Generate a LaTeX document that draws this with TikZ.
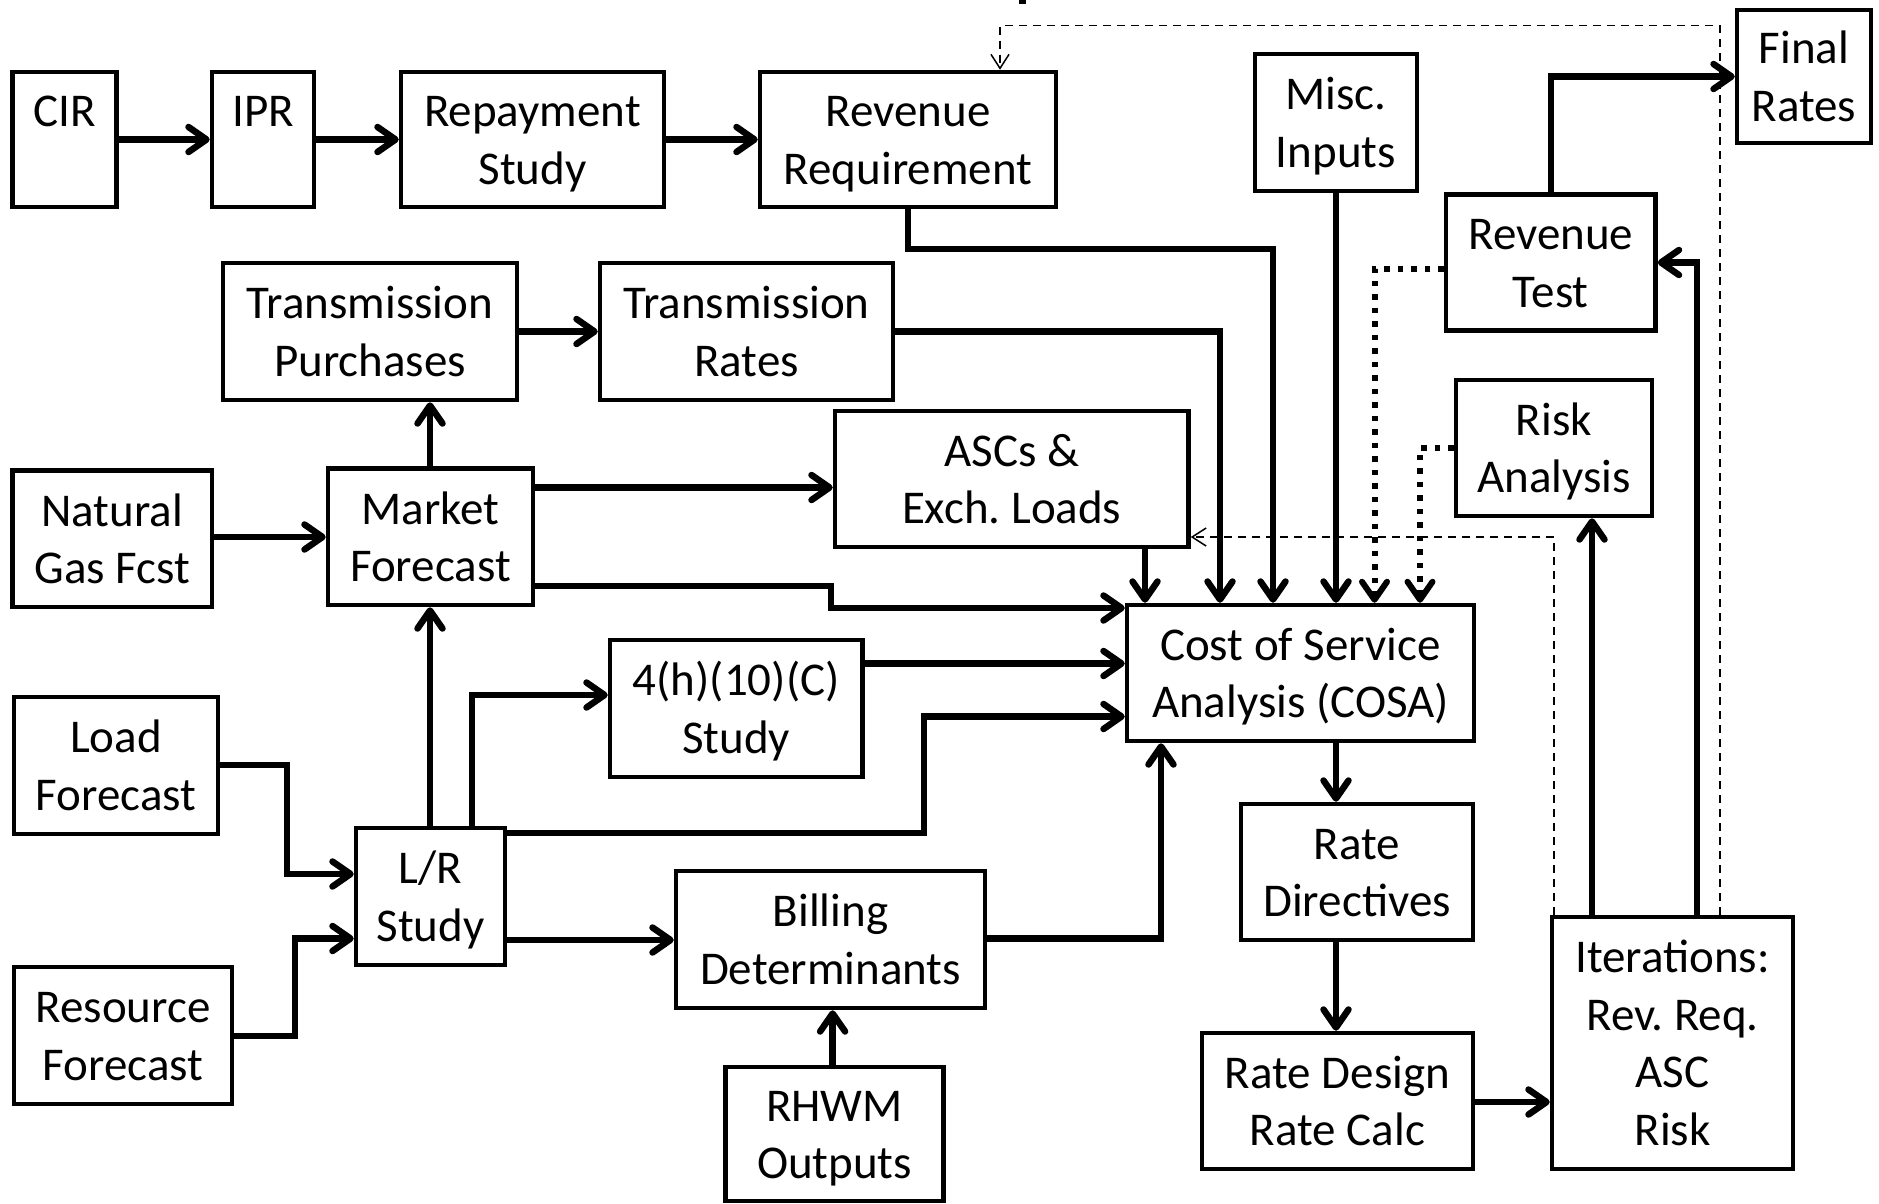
\documentclass[tikz,border=0pt]{standalone}
\usepackage{fontspec}
\setmainfont{Carlito}
\usetikzlibrary{arrows.meta}
\newcommand\topstrut{\rule{0pt}{44pt}}
\newcommand\botstrut{\rule[-12pt]{0pt}{12pt}}
\tikzset{
  box/.style={draw, line width=4.5pt, rectangle, inner sep=0pt, align=center,
    font=\fontsize{47}{57.5}\selectfont\frenchspacing},
  arr/.style={line width=6.5pt, -{Straight Barb[length=18pt,width=25pt,round]}},
  darr/.style={line width=1.5pt, dash pattern=on 8pt off 6pt, -{Straight Barb[length=14pt,width=18pt]}},
  dotarr/.style={line width=6pt, dash pattern=on 5.5pt off 8pt, -{Straight Barb[length=18pt,width=25pt,round]}},
}
\newcommand\bx[6]{\node[box, minimum width={#4-#2}, minimum height={#5-#3}] (#1) at ({(#2+#4)/2},{(#3+#5)/2}) {\topstrut#6\botstrut};}
\begin{document}
\frenchspacing
\begin{tikzpicture}[x=1pt,y=-1pt]
\fill[white] (0,0) rectangle (1879,1203);
\useasboundingbox (0,0) rectangle (1879,1203);
\fill (1019,0) rectangle (1026,4);
% boxes
\bx{cir}{12.6}{72}{116.5}{207}{CIR\\\mbox{}}
\bx{ipr}{212}{72}{314}{207}{IPR\\\mbox{}}
\bx{rep}{401}{72}{664}{207}{Repayment\\Study}
\bx{revreq}{760}{72}{1056}{207}{Revenue\\Requirement}
\bx{misc}{1255}{54}{1417}{191}{Misc.\\Inputs}
\bx{final}{1737}{10}{1871}{143}{Final\\Rates}
\bx{revtest}{1446}{194.5}{1655.5}{330.5}{Revenue\\Test}
\bx{tp}{223}{263}{517}{400}{Transmission\\Purchases}
\bx{tr}{600}{263}{893}{400}{Transmission\\Rates}
\bx{risk}{1456}{380}{1652}{516}{Risk\\Analysis}
\bx{asc}{835}{411}{1188.5}{547}{ASCs \&\\Exch.\ Loads}
\bx{ng}{12.6}{470.5}{212}{607}{Natural\\Gas Fcst}
\bx{mf}{328}{468.5}{533}{605}{Market\\Forecast}
\bx{cosa}{1127}{605}{1474}{741}{Cost of Service\\Analysis (COSA)}
\bx{h4}{610}{640}{862.5}{777}{4(h)(10)(C)\\Study}
\bx{lf}{14}{697}{218}{834}{Load\\Forecast}
\bx{lr}{356}{828}{505}{965}{L/R\\Study}
\bx{bill}{676}{871}{985}{1008}{Billing\\Determinants}
\bx{ratedir}{1241}{804}{1473}{940}{Rate\\Directives}
\bx{rf}{14}{967}{232}{1104}{Resource\\Forecast}
\bx{rhwm}{725.5}{1067}{943.6}{1201}{RHWM\\Outputs}
\bx{ratedes}{1202}{1033}{1473}{1169}{Rate Design\\Rate Calc}
\bx{iter}{1552}{917}{1793}{1169}{Iterations:\\Rev.\ Req.\\ASC\\Risk}
% helper coordinates
\coordinate (k3) at (1720,25.7);
\coordinate (k3b) at (1000,25.7);
\coordinate (k4) at (1273,249);
\coordinate (k7) at (1697,0);
\coordinate (k8) at (1592,0);
\coordinate (k9) at (1554,537);
\coordinate (k10) at (1374.5,269);
\coordinate (k11) at (1420,448);
\coordinate (k13) at (1220,331.5);
\coordinate (k14) at (1145,0);
\coordinate (k15) at (430,0);
\coordinate (k16) at (0,537);
\coordinate (k17) at (0,487.5);
\coordinate (k18a) at (831,586);
\coordinate (k18b) at (831,608);
\coordinate (k19) at (0,663.5);
\coordinate (k20a) at (924,833);
\coordinate (k20b) at (924,716.5);
\coordinate (k21) at (472,695);
\coordinate (k23a) at (287,765);
\coordinate (k23b) at (287,874);
\coordinate (k24a) at (295,1036);
\coordinate (k24b) at (295,938.5);
\coordinate (k25) at (0,940);
\coordinate (k26) at (1161,938.5);
\coordinate (k27) at (832.6,0);
\coordinate (k28) at (1336,0);
\coordinate (k30) at (0,1102);
% connectors
\draw[arr] (cir) -- (ipr);
\draw[arr] (ipr) -- (rep);
\draw[arr] (rep) -- (revreq);
\draw[darr] (iter.north -| k3) -- (k3) -- (k3b) -- (revreq.north -| k3b);
\draw[arr] (revreq.south) |- (k4) -- (k4 |- cosa.north);
\draw[arr] (misc.south) -- (misc.south |- cosa.north);
\draw[arr] (revtest.north) |- (final.west);
\draw[arr] (iter.north -| k7) |- (revtest.east);
\draw[arr] (iter.north -| k8) -- (risk.south -| k8);
\draw[darr] (iter.north -| k9) -- (k9) -- (asc.east |- k9);
\draw[dotarr] (revtest.west |- k10) -- (k10) -- (k10 |- cosa.north);
\draw[dotarr] (risk.west |- k11) -- (k11) -- (k11 |- cosa.north);
\draw[arr] (tp) -- (tr);
\draw[arr] (tr.east) -| (k13 |- cosa.north);
\draw[arr] (asc.south -| k14) -- (cosa.north -| k14);
\draw[arr] (mf.north -| k15) -- (tp.south -| k15);
\draw[arr] (lr.north -| k15) -- (mf.south -| k15);
\draw[arr] (ng.east |- k16) -- (mf.west |- k16);
\draw[arr] (mf.east |- k17) -- (asc.west |- k17);
\draw[arr] (mf.east |- k18a) -- (k18a) -- (k18b) -- (cosa.west |- k18b);
\draw[arr] (h4.east |- k19) -- (cosa.west |- k19);
\draw[arr] (lr.east |- k20a) -- (k20a) -- (k20b) -- (cosa.west |- k20b);
\draw[arr] (lr.north -| k21) -- (k21) -- (h4.west |- k21);
\draw[arr] (lf.east |- k23a) -- (k23a) -- (k23b) -- (lr.west |- k23b);
\draw[arr] (rf.east |- k24a) -- (k24a) -- (k24b) -- (lr.west |- k24b);
\draw[arr] (lr.east |- k25) -- (bill.west |- k25);
\draw[arr] (bill.east |- k26) -- (k26) -- (k26 |- cosa.south);
\draw[arr] (rhwm.north -| k27) -- (bill.south -| k27);
\draw[arr] (cosa.south -| k28) -- (ratedir.north -| k28);
\draw[arr] (ratedir.south -| k28) -- (ratedes.north -| k28);
\draw[arr] (ratedes.east |- k30) -- (iter.west |- k30);
\end{tikzpicture}
\end{document}
